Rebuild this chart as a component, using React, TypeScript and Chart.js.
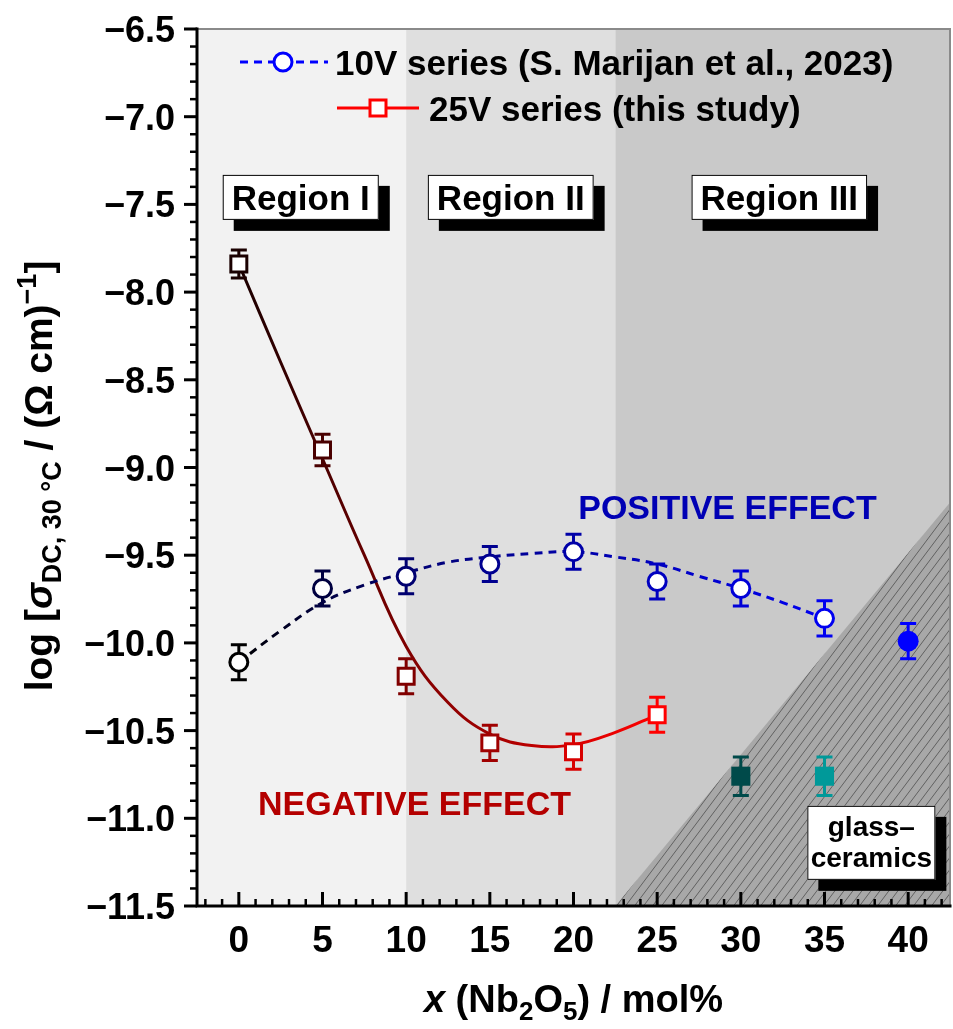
import React, { useEffect, useRef } from 'react';
import { Chart, registerables } from 'chart.js';

Chart.register(...registerables);

// ---------------- data ----------------
const xValues10V = [0, 5, 10, 15, 20, 25, 30, 35];
const logSigma10V = [-10.11, -9.69, -9.62, -9.55, -9.48, -9.65, -9.69, -9.86];
const err10V = [0.1, 0.1, 0.1, 0.1, 0.1, 0.1, 0.1, 0.1];
const colors10V = ['#000000', '#000040', '#000070', '#000090', '#0000a8', '#0000c0', '#0000d8', '#0000f0'];

const xValuesGC10V = [40];
const logSigmaGC10V = [-9.99];
const errGC10V = [0.1];
const colorsGC10V = ['#0000ff'];

const xValues25V = [0, 5, 10, 15, 20, 25];
const logSigma25V = [-7.84, -8.9, -10.19, -10.57, -10.62, -10.41];
const err25V = [0.08, 0.09, 0.1, 0.1, 0.1, 0.1];
const colors25V = ['#1a0000', '#4a0000', '#800000', '#a00000', '#d80000', '#ff0000'];

const xValuesGC25V = [30, 35];
const logSigmaGC25V = [-10.76, -10.76];
const errGC25V = [0.11, 0.11];
const colorsGC25V = ['#004a4a', '#009999'];

// guide curves
const fitX10V = [0, 2.5, 5, 7.5, 10, 12.5, 15, 17.5, 20, 22.5, 25, 27.5, 30, 32.5, 35];
const fitY10V = [-10.11, -9.93, -9.77, -9.67, -9.6, -9.54, -9.51, -9.49, -9.48, -9.51, -9.55, -9.62, -9.69, -9.77, -9.86];
const fitX25V = [0, 2.5, 5, 7.5, 10, 12.5, 15, 17.5, 20, 22.5, 25];
const fitY25V = [-7.84, -8.4, -8.95, -9.5, -10.02, -10.34, -10.52, -10.585, -10.58, -10.51, -10.41];

const xTickValues = [0, 5, 10, 15, 20, 25, 30, 35, 40];
const yTickValues = [-11.5, -11, -10.5, -10, -9.5, -9, -8.5, -8, -7.5, -7, -6.5];
const xRange = [-2.5, 42.5];
const yRange = [-11.5, -6.5];
const xMinorStep = 1;
const yMinorStep = 0.1;

const regionBounds = [-2.5, 10, 22.5, 42.5];
const regionColors = ['#f2f2f2', '#dfdfdf', '#c9c9c9'];
const regionLabels = ['Region I', 'Region II', 'Region III'];
const regionLabelX = [3.7, 16.25, 32.3];
const regionLabelY = -7.46;
const glassCeramicTriangle = [
  [22.5, -11.5],
  [42.5, -11.5],
  [42.5, -9.2],
];

const FONT = "'Liberation Sans', Arial, Helvetica, sans-serif";
const f = (size: number, italic = false) => `${italic ? 'italic ' : ''}bold ${size}px ${FONT}`;

function lineGradient(chart: any, xs: number[], colors: string[]) {
  const { ctx, chartArea, scales } = chart;
  if (!chartArea || !scales.x) return colors[colors.length - 1];
  const x0 = scales.x.getPixelForValue(xs[0]);
  const x1 = scales.x.getPixelForValue(xs[xs.length - 1]);
  const g = ctx.createLinearGradient(x0, 0, x1, 0);
  xs.forEach((x, i) => g.addColorStop((x - xs[0]) / (xs[xs.length - 1] - xs[0]), colors[i]));
  return g;
}

let hatchCache: CanvasPattern | null = null;
function hatch(ctx: CanvasRenderingContext2D) {
  if (hatchCache) return hatchCache;
  const w = 9, h = 12;
  const c = document.createElement('canvas');
  c.width = w;
  c.height = h;
  const p = c.getContext('2d')!;
  p.fillStyle = '#a8a8a8';
  p.fillRect(0, 0, w, h);
  p.strokeStyle = '#606060';
  p.lineWidth = 1;
  p.beginPath();
  for (const k of [-1, 0, 1]) {
    p.moveTo(k * w - w, 2 * h);
    p.lineTo(k * w + 2 * w, -h);
  }
  p.stroke();
  hatchCache = ctx.createPattern(c, 'repeat');
  return hatchCache!;
}

type Seg = { t: string; s?: number; it?: boolean; dy?: number };
function richWidth(ctx: CanvasRenderingContext2D, segs: Seg[], base: number) {
  let w = 0;
  for (const sg of segs) {
    ctx.font = f(sg.s ?? base, sg.it);
    w += ctx.measureText(sg.t).width;
  }
  return w;
}
function drawRich(ctx: CanvasRenderingContext2D, segs: Seg[], base: number, x: number, y: number) {
  let cx = x;
  ctx.textBaseline = 'alphabetic';
  ctx.textAlign = 'left';
  for (const sg of segs) {
    ctx.font = f(sg.s ?? base, sg.it);
    ctx.fillText(sg.t, cx, y + (sg.dy ?? 0));
    cx += ctx.measureText(sg.t).width;
  }
}

function shadowBox(ctx: CanvasRenderingContext2D, l: number, t: number, w: number, h: number, off: number) {
  ctx.fillStyle = '#000';
  ctx.fillRect(l + off, t + off, w, h);
  ctx.fillStyle = '#fff';
  ctx.fillRect(l, t, w, h);
  ctx.strokeStyle = '#000';
  ctx.lineWidth = 1;
  ctx.strokeRect(l + 0.5, t + 0.5, w - 1, h - 1);
}

const errorSets = [
  { xs: xValues10V, ys: logSigma10V, es: err10V, cs: colors10V },
  { xs: xValuesGC10V, ys: logSigmaGC10V, es: errGC10V, cs: colorsGC10V },
  { xs: xValues25V, ys: logSigma25V, es: err25V, cs: colors25V },
  { xs: xValuesGC25V, ys: logSigmaGC25V, es: errGC25V, cs: colorsGC25V },
];

const fmtY = (v: number) => v.toFixed(1).replace('-', '\u2212');

const decorPlugin = {
  id: 'decor',
  beforeDatasetsDraw(chart: any) {
    const { ctx, chartArea: a, scales } = chart;
    const x = scales.x, y = scales.y;
    ctx.save();
    // regions
    for (let i = 0; i < regionColors.length; i++) {
      const l = x.getPixelForValue(regionBounds[i]);
      const r = x.getPixelForValue(regionBounds[i + 1]);
      ctx.fillStyle = regionColors[i];
      ctx.fillRect(l, a.top, r - l, a.bottom - a.top);
    }
    // hatched glass-ceramic area
    ctx.beginPath();
    glassCeramicTriangle.forEach(([vx, vy], i) => {
      const px = x.getPixelForValue(vx), py = y.getPixelForValue(vy);
      if (i === 0) ctx.moveTo(px, py);
      else ctx.lineTo(px, py);
    });
    ctx.closePath();
    ctx.fillStyle = hatch(ctx);
    ctx.fill();
    // error bars
    ctx.lineWidth = 3;
    ctx.lineCap = 'butt';
    for (const set of errorSets) {
      set.xs.forEach((xv, i) => {
        const px = x.getPixelForValue(xv);
        const p1 = y.getPixelForValue(set.ys[i] + set.es[i]);
        const p2 = y.getPixelForValue(set.ys[i] - set.es[i]);
        ctx.strokeStyle = set.cs[i];
        ctx.beginPath();
        ctx.moveTo(px, p1);
        ctx.lineTo(px, p2);
        ctx.moveTo(px - 8, p1);
        ctx.lineTo(px + 8, p1);
        ctx.moveTo(px - 8, p2);
        ctx.lineTo(px + 8, p2);
        ctx.stroke();
      });
    }
    ctx.restore();
  },
  afterDraw(chart: any) {
    const { ctx, chartArea: a, scales } = chart;
    const x = scales.x, y = scales.y;
    ctx.save();

    // frame
    ctx.strokeStyle = '#8a8a8a';
    ctx.lineWidth = 2;
    ctx.beginPath();
    ctx.moveTo(a.left, a.top);
    ctx.lineTo(a.right, a.top);
    ctx.lineTo(a.right, a.bottom);
    ctx.stroke();

    ctx.strokeStyle = '#000';
    ctx.lineWidth = 3;
    ctx.beginPath();
    ctx.moveTo(a.left, a.top - 1.5);
    ctx.lineTo(a.left, a.bottom);
    ctx.lineTo(a.right + 1.5, a.bottom);
    ctx.stroke();

    // x ticks (inward)
    for (let v = Math.ceil(xRange[0]); v <= xRange[1]; v += xMinorStep) {
      const px = x.getPixelForValue(v);
      const major = xTickValues.includes(v);
      ctx.lineWidth = major ? 3 : 2.5;
      ctx.beginPath();
      ctx.moveTo(px, a.bottom);
      ctx.lineTo(px, a.bottom - (major ? 14 : 7));
      ctx.stroke();
    }
    // y ticks (outward)
    const nY = Math.round((yRange[1] - yRange[0]) / yMinorStep);
    for (let k = 0; k <= nY; k++) {
      const v = yRange[0] + k * yMinorStep;
      const py = y.getPixelForValue(v);
      const major = k % 5 === 0;
      ctx.lineWidth = major ? 3 : 2.5;
      ctx.beginPath();
      ctx.moveTo(a.left, py);
      ctx.lineTo(a.left - (major ? 13 : 7), py);
      ctx.stroke();
    }

    // tick labels
    ctx.fillStyle = '#000';
    ctx.font = f(37);
    ctx.textAlign = 'center';
    ctx.textBaseline = 'alphabetic';
    xTickValues.forEach((v) => {
      ctx.fillText(String(v), x.getPixelForValue(v), a.bottom + 46);
    });
    ctx.font = f(36);
    ctx.textAlign = 'right';
    yTickValues.forEach((v) => {
      ctx.fillText(fmtY(v), a.left - 22, y.getPixelForValue(v) + 13);
    });

    // region labels
    regionLabels.forEach((lab, i) => {
      const cx = x.getPixelForValue(regionLabelX[i]);
      const cy = y.getPixelForValue(regionLabelY);
      ctx.font = f(35);
      const w = ctx.measureText(lab).width + 18;
      const h = 45;
      shadowBox(ctx, cx - w / 2, cy - h / 2, w, h, 11);
      ctx.fillStyle = '#000';
      ctx.textAlign = 'center';
      ctx.textBaseline = 'alphabetic';
      ctx.fillText(lab, cx, cy + 12.5);
    });

    // glass-ceramics label
    {
      const cx = x.getPixelForValue(37.8);
      const cy = y.getPixelForValue(-11.14);
      const w = 128, h = 74;
      shadowBox(ctx, cx - w / 2, cy - h / 2, w, h, 11);
      ctx.fillStyle = '#000';
      ctx.font = f(28);
      ctx.textAlign = 'center';
      ctx.textBaseline = 'alphabetic';
      ctx.fillText('glass–', cx, cy - 7);
      ctx.fillText('ceramics', cx, cy + 24);
    }

    // effect annotations
    ctx.textAlign = 'center';
    ctx.textBaseline = 'alphabetic';
    ctx.font = f(34);
    ctx.fillStyle = '#0000b4';
    ctx.fillText('POSITIVE EFFECT', x.getPixelForValue(29.2), y.getPixelForValue(-9.225) + 12);
    ctx.fillStyle = '#b40000';
    ctx.fillText('NEGATIVE EFFECT', x.getPixelForValue(10.5), y.getPixelForValue(-10.91) + 12);

    // legend
    {
      const y1 = a.top + 33;
      const y2 = a.top + 79;
      ctx.strokeStyle = '#0000ff';
      ctx.lineWidth = 3;
      ctx.setLineDash([8, 6]);
      ctx.beginPath();
      ctx.moveTo(240, y1);
      ctx.lineTo(328, y1);
      ctx.stroke();
      ctx.setLineDash([]);
      ctx.beginPath();
      ctx.arc(283, y1, 9, 0, Math.PI * 2);
      ctx.fillStyle = '#fff';
      ctx.fill();
      ctx.stroke();
      ctx.fillStyle = '#000';
      ctx.font = f(35);
      ctx.textAlign = 'left';
      ctx.fillText('10V series (S. Marijan et al., 2023)', 335, y1 + 12.5);
      ctx.strokeStyle = '#ff0000';
      ctx.beginPath();
      ctx.moveTo(337, y2);
      ctx.lineTo(419, y2);
      ctx.stroke();
      ctx.fillStyle = '#fff';
      ctx.fillRect(370, y2 - 8, 16, 16);
      ctx.strokeRect(370, y2 - 8, 16, 16);
      ctx.fillStyle = '#000';
      ctx.fillText('25V series (this study)', 429, y2 + 12.5);
    }

    // y axis title
    {
      const segs: Seg[] = [
        { t: 'log [' },
        { t: 'σ', it: true },
        { t: 'DC, 30 °C', s: 27, dy: 9 },
        { t: ' / (Ω cm)' },
        { t: '−1', s: 27, dy: -16 },
        { t: ']' },
      ];
      const w = richWidth(ctx, segs, 39);
      ctx.save();
      ctx.translate(52, 476);
      ctx.rotate(-Math.PI / 2);
      ctx.fillStyle = '#000';
      drawRich(ctx, segs, 39, -w / 2, 0);
      ctx.restore();
    }
    // x axis title
    {
      const segs: Seg[] = [
        { t: 'x', it: true },
        { t: ' (Nb' },
        { t: '2', s: 26, dy: 8 },
        { t: 'O' },
        { t: '5', s: 26, dy: 8 },
        { t: ') / mol%' },
      ];
      const w = richWidth(ctx, segs, 38);
      ctx.fillStyle = '#000';
      drawRich(ctx, segs, 38, (a.left + a.right) / 2 - w / 2, 1012);
    }
    ctx.restore();
  },
};

const pts = (xs: number[], ys: number[]) => xs.map((xv, i) => ({ x: xv, y: ys[i] }));

export default function App() {
  const ref = useRef<HTMLCanvasElement | null>(null);
  useEffect(() => {
    document.body.style.margin = '0';
    document.body.style.overflow = 'hidden';
    const canvas = ref.current!;
    const chart = new Chart(canvas, {
      type: 'line',
      data: {
        datasets: [
          {
            label: '10V series',
            data: pts(xValues10V, logSigma10V),
            showLine: false,
            pointStyle: 'circle',
            pointRadius: 9,
            pointBorderWidth: 3,
            pointBackgroundColor: '#ffffff',
            pointBorderColor: colors10V,
          },
          {
            label: '25V series',
            data: pts(xValues25V, logSigma25V),
            showLine: false,
            pointStyle: 'rect',
            pointRadius: 11.3,
            pointBorderWidth: 3,
            pointBackgroundColor: '#ffffff',
            pointBorderColor: colors25V,
          },
          {
            label: '10V glass-ceramic',
            data: pts(xValuesGC10V, logSigmaGC10V),
            showLine: false,
            pointStyle: 'circle',
            pointRadius: 10.5,
            pointBorderWidth: 0,
            pointBackgroundColor: colorsGC10V,
            pointBorderColor: colorsGC10V,
          },
          {
            label: '25V glass-ceramic',
            data: pts(xValuesGC25V, logSigmaGC25V),
            showLine: false,
            pointStyle: 'rect',
            pointRadius: 13.5,
            pointBorderWidth: 0,
            pointBackgroundColor: colorsGC25V,
            pointBorderColor: colorsGC25V,
          },
          {
            label: '10V guide',
            data: pts(fitX10V, fitY10V),
            pointRadius: 0,
            borderWidth: 3,
            borderDash: [8, 6],
            tension: 0.4,
            borderColor: (c: any) => lineGradient(c.chart, xValues10V, colors10V),
          },
          {
            label: '25V guide',
            data: pts(fitX25V, fitY25V),
            pointRadius: 0,
            borderWidth: 3,
            tension: 0.4,
            borderColor: (c: any) => lineGradient(c.chart, xValues25V, colors25V),
          },
        ] as any,
      },
      options: {
        responsive: false,
        animation: false,
        events: [],
        layout: { autoPadding: false, padding: { top: 29, right: 3, left: 0, bottom: 0 } },
        plugins: { legend: { display: false }, tooltip: { enabled: false }, title: { display: false } },
        scales: {
          x: {
            type: 'linear',
            min: xRange[0],
            max: xRange[1],
            grid: { display: false, drawTicks: false },
            border: { display: false },
            ticks: { display: false },
            afterBuildTicks: (s: any) => {
              s.ticks = xTickValues.map((v) => ({ value: v }));
            },
            afterFit: (s: any) => {
              s.height = 123;
            },
          },
          y: {
            type: 'linear',
            min: yRange[0],
            max: yRange[1],
            grid: { display: false, drawTicks: false },
            border: { display: false },
            ticks: { display: false },
            afterBuildTicks: (s: any) => {
              s.ticks = yTickValues.map((v) => ({ value: v }));
            },
            afterFit: (s: any) => {
              s.width = 197;
            },
          },
        },
      } as any,
      plugins: [decorPlugin as any],
    });
    return () => chart.destroy();
  }, []);
  return (
    <div style={{ width: 953, height: 1029, background: '#fff' }}>
      <canvas ref={ref} width={953} height={1029} style={{ display: 'block', width: 953, height: 1029 }} />
    </div>
  );
}
